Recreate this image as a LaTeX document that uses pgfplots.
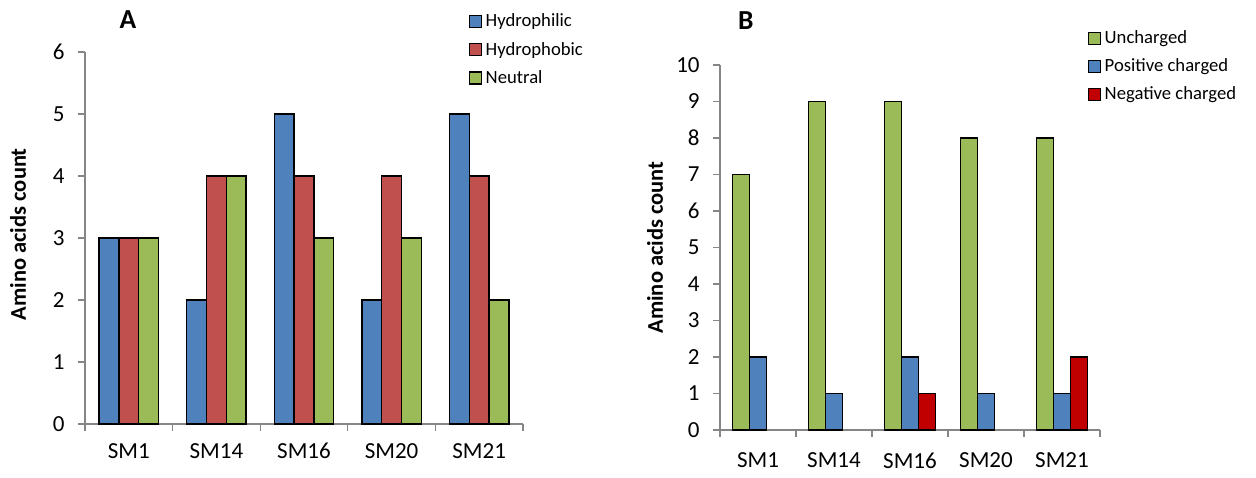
\documentclass[border=0pt]{standalone}
\usepackage{pgfplots}
\pgfplotsset{compat=1.18}
\usepackage{fontspec}
\setmainfont{Carlito}
\definecolor{cblue}{HTML}{4F81BD}
\definecolor{cred}{HTML}{C0504D}
\definecolor{cgreen}{HTML}{9BBB59}
\definecolor{cdred}{HTML}{C00000}
\definecolor{axgray}{HTML}{868686}
\pgfplotsset{
  ybar legend/.style={legend image code/.code={\draw[##1, draw=black, line width=0.7pt] (0pt,-3.6pt) rectangle (7.2pt,3.6pt);}},
  mystyle/.style={
    scale only axis,
    axis x line*=bottom, axis y line*=left,
    axis line style={axgray, line width=0.8pt},
    tick style={axgray, line width=0.8pt},
    tick align=outside,
    major tick length=4.2pt,
    xmin=-0.5, xmax=4.5, ymin=0,
    xtick={-0.5,0.5,1.5,2.5,3.5,4.5}, xticklabels={,,,,,},
    extra x ticks={0,1,2,3,4},
    extra x tick labels={SM1,SM14,SM16,SM20,SM21},
    ybar,
    /pgf/number format/assume math mode=true,
    tick label style={font=\fontsize{13.8}{16}\selectfont},
    yticklabel style={xshift=-4.5pt},
    ylabel={\textbf{Amino acids count}},
    ylabel style={font=\fontsize{13.5}{16}\selectfont, anchor=center},
    every axis title shift=0pt,
    title style={font=\fontsize{16.5}{18}\selectfont\bfseries, anchor=center},
    legend style={draw=none, fill=none, font=\fontsize{11.2}{13}\selectfont, anchor=north west, row sep=3.6pt},
    legend cell align=left,
    every axis plot/.append style={draw=black, line width=0.8pt},
  }
}
\begin{document}
\begin{tikzpicture}
\path[use as bounding box] (0,0) rectangle (753.6pt,-286.2pt);
\begin{axis}[mystyle,
  at={(51pt,-254.4pt)}, anchor=south west,
  width=262.8pt, height=223.2pt,
  ymax=6, ytick={0,1,2,3,4,5,6},
  bar width=11.88pt, ybar=0pt,
  extra x tick style={major tick length=0pt, tick label style={yshift=-8pt}},
  title={A}, title style={at={(axis description cs:0.098,1.086)}},
  ylabel style={at={(axis description cs:-0.153,0.51)}},
  legend style={at={(axis description cs:0.865,1.121)}},
]
\addplot[fill=cblue] coordinates {(0,3) (1,2) (2,5) (3,2) (4,5)};
\addplot[fill=cred] coordinates {(0,3) (1,4) (2,4) (3,4) (4,4)};
\addplot[fill=cgreen] coordinates {(0,3) (1,4) (2,3) (3,3) (4,2)};
\legend{Hydrophilic,Hydrophobic,Neutral}
\end{axis}
\begin{axis}[mystyle,
  at={(432pt,-258pt)}, anchor=south west,
  width=228pt, height=219pt,
  ymax=10, ytick={0,1,2,3,4,5,6,7,8,9,10},
  bar width=10.2pt, ybar=0pt,
  extra x tick style={major tick length=0pt, tick label style={yshift=-10pt}},
  title={B}, title style={at={(axis description cs:0.068,1.123)}},
  ylabel style={at={(axis description cs:-0.171,0.5)}},
  legend style={at={(axis description cs:0.955,1.114)}},
]
\addplot[fill=cgreen] coordinates {(0,7) (1,9) (2,9) (3,8) (4,8)};
\addplot[fill=cblue] coordinates {(0,2) (1,1) (2,2) (3,1) (4,1)};
\addplot[fill=cdred] coordinates {(2,1) (4,2)};
\legend{Uncharged,Positive charged,Negative charged}
\end{axis}
\end{tikzpicture}
\end{document}
